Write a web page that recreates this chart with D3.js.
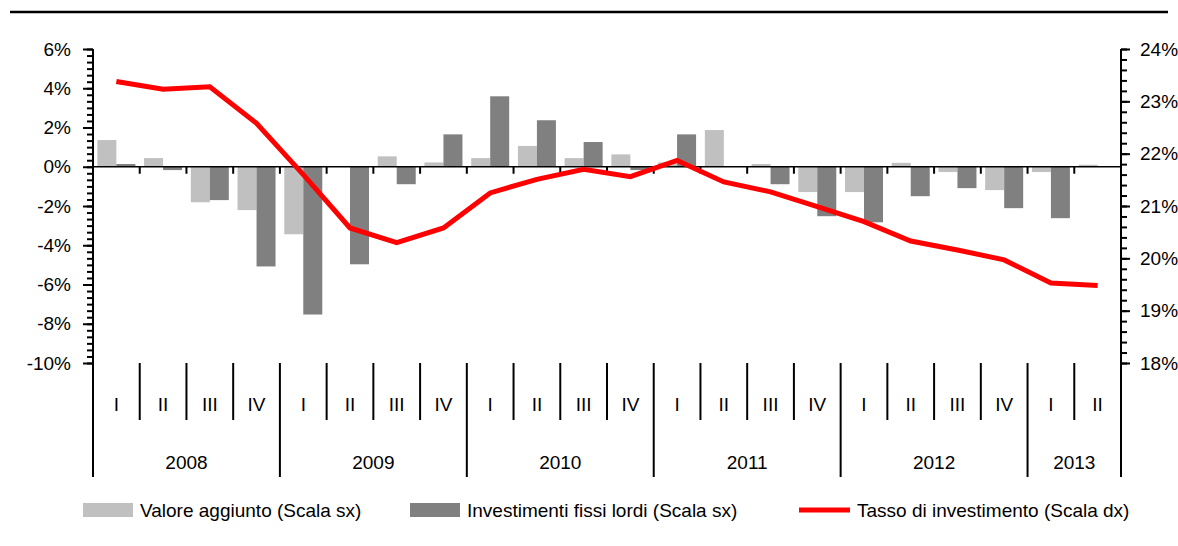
<!DOCTYPE html>
<html>
<head>
<meta charset="utf-8">
<script src="https://cdn.jsdelivr.net/npm/d3@7"></script>
<style>
body { margin: 0; background: #fff; }
text { font-family: "Liberation Sans", Arial, sans-serif; font-size: 19px; fill: #000; }
</style>
</head>
<body>
<svg id="chart" width="1178" height="546"></svg>
<script>
var years = ['2008', '2009', '2010', '2011', '2012', '2013']
var yearCounts = [4, 4, 4, 4, 4, 2]
var quarters = ['I', 'II', 'III', 'IV', 'I', 'II', 'III', 'IV', 'I', 'II', 'III', 'IV',
  'I', 'II', 'III', 'IV', 'I', 'II', 'III', 'IV', 'I', 'II']

// variazioni % (scala sx)
var valore = [1.36, 0.44, -1.81, -2.21, -3.44, 0, 0.53, 0.22, 0.44, 1.06, 0.44,
  0.63, 0.22, 1.87, 0.14, -1.29, -1.29, 0.2, -0.27, -1.19, -0.27, 0.1]
var invest = [0.14, -0.17, -1.70, -5.08, -7.53, -4.97, -0.89, 1.65, 3.59, 2.37, 1.26,
  -0.17, 1.65, 0, -0.89, -2.52, -2.83, -1.5, -1.09, -2.11, -2.62, 0]
// tasso di investimento % (scala dx)
var tasso = [23.38, 23.23, 23.28, 22.58, 21.6, 20.58, 20.30, 20.58, 21.25, 21.51, 21.70,
  21.56, 21.87, 21.46, 21.27, 20.99, 20.70, 20.33, 20.16, 19.97, 19.53, 19.48]

var leftTicks = [-10, -8, -6, -4, -2, 0, 2, 4, 6]
var rightTicks = [18, 19, 20, 21, 22, 23, 24]

var svg = d3.select('#chart')
var plotLeft = 93, plotRight = 1121, plotTop = 49, plotBottom = 363, axisBottom = 477

var x = d3.scaleBand().domain(d3.range(quarters.length)).range([plotLeft, plotRight])
var bw = x.bandwidth()
var sub = d3.scaleBand().domain(['va', 'inv']).range([bw / 2 - 19, bw / 2 + 19])
var yL = d3.scaleLinear().domain([-10, 6]).range([plotBottom, plotTop])
var yR = d3.scaleLinear().domain([18, 24]).range([plotBottom, plotTop])

// top rule
svg.append('line').attr('x1', 10).attr('x2', 1168).attr('y1', 12).attr('y2', 12)
  .attr('stroke', '#000').attr('stroke-width', 2.5)

// bars
var series = [
  {key: 'va', values: valore, color: '#c0c0c0'},
  {key: 'inv', values: invest, color: '#808080'}
]
series.forEach(function(s){
  svg.append('g').selectAll('rect').data(s.values).join('rect')
    .attr('x', function(d, i){ return x(i) + sub(s.key) })
    .attr('width', sub.bandwidth())
    .attr('y', function(d){ return Math.min(yL(d), yL(0)) })
    .attr('height', function(d){ return Math.abs(yL(d) - yL(0)) })
    .attr('fill', s.color)
})

// left axis
var minorL = d3.range(-30, 19).map(function(d){ return d / 3 })
svg.append('g').attr('transform', 'translate(' + plotLeft + ',0)')
  .call(d3.axisLeft(yL).tickValues(minorL).tickSize(6).tickFormat(''))
svg.append('g').attr('transform', 'translate(' + plotLeft + ',0)')
  .call(d3.axisLeft(yL).tickValues(leftTicks).tickSize(10).tickPadding(12).tickFormat(function(d){ return d + '%' }))

// right axis
var minorR = d3.range(90, 121).map(function(d){ return d / 5 })
svg.append('g').attr('transform', 'translate(' + plotRight + ',0)')
  .call(d3.axisRight(yR).tickValues(minorR).tickSize(6).tickFormat(''))
svg.append('g').attr('transform', 'translate(' + plotRight + ',0)')
  .call(d3.axisRight(yR).tickValues(rightTicks).tickSize(9).tickPadding(10).tickFormat(function(d){ return d + '%' }))

svg.selectAll('.domain').remove()
svg.selectAll('.tick line').attr('stroke', '#000').attr('stroke-width', 2)
svg.selectAll('.tick text').attr('font-family', null).attr('font-size', null)

// vertical axis lines
;[plotLeft, plotRight].forEach(function(xx){
  svg.append('line').attr('x1', xx).attr('x2', xx).attr('y1', plotTop).attr('y2', axisBottom)
    .attr('stroke', '#000').attr('stroke-width', 2)
})

// zero line with small ticks
svg.append('line').attr('x1', plotLeft).attr('x2', plotRight).attr('y1', yL(0)).attr('y2', yL(0))
  .attr('stroke', '#000').attr('stroke-width', 1.5)
svg.append('g').selectAll('line').data(d3.range(1, quarters.length)).join('line')
  .attr('x1', function(i){ return x(i) }).attr('x2', function(i){ return x(i) })
  .attr('y1', yL(0)).attr('y2', yL(0) + 7)
  .attr('stroke', '#000').attr('stroke-width', 2)

// category separators
var yearStarts = d3.cumsum(yearCounts)
svg.append('g').selectAll('line').data(d3.range(1, quarters.length)).join('line')
  .attr('x1', function(i){ return x(i) }).attr('x2', function(i){ return x(i) })
  .attr('y1', plotBottom)
  .attr('y2', function(i){ return yearStarts.indexOf(i) >= 0 ? axisBottom : 420 })
  .attr('stroke', '#000').attr('stroke-width', 2)

svg.append('g').selectAll('text').data(quarters).join('text')
  .attr('x', function(d, i){ return x(i) + bw / 2 })
  .attr('y', 404).attr('dy', '0.35em').attr('text-anchor', 'middle')
  .text(function(d){ return d })

svg.append('g').selectAll('text').data(years).join('text')
  .attr('x', function(d, i){
    var start = i ? yearStarts[i - 1] : 0
    return (x(start) + x(start + yearCounts[i] - 1) + bw) / 2
  })
  .attr('y', 462).attr('dy', '0.35em').attr('text-anchor', 'middle')
  .text(function(d){ return d })

// line
var line = d3.line()
  .x(function(d, i){ return x(i) + bw / 2 })
  .y(function(d){ return yR(d) })
svg.append('path').attr('d', line(tasso))
  .attr('fill', 'none').attr('stroke', '#ff0000').attr('stroke-width', 5)

// legend
var ly = 510
svg.append('rect').attr('x', 83).attr('y', ly - 7).attr('width', 50).attr('height', 14).attr('fill', '#c0c0c0')
svg.append('text').attr('x', 140).attr('y', ly).attr('dy', '0.35em').text('Valore aggiunto (Scala sx)')
svg.append('rect').attr('x', 410).attr('y', ly - 7).attr('width', 50).attr('height', 14).attr('fill', '#808080')
svg.append('text').attr('x', 467).attr('y', ly).attr('dy', '0.35em').text('Investimenti fissi lordi (Scala sx)')
svg.append('line').attr('x1', 799).attr('x2', 850).attr('y1', ly).attr('y2', ly)
  .attr('stroke', '#ff0000').attr('stroke-width', 5)
svg.append('text').attr('x', 857).attr('y', ly).attr('dy', '0.35em').text('Tasso di investimento (Scala dx)')
</script>
</body>
</html>
